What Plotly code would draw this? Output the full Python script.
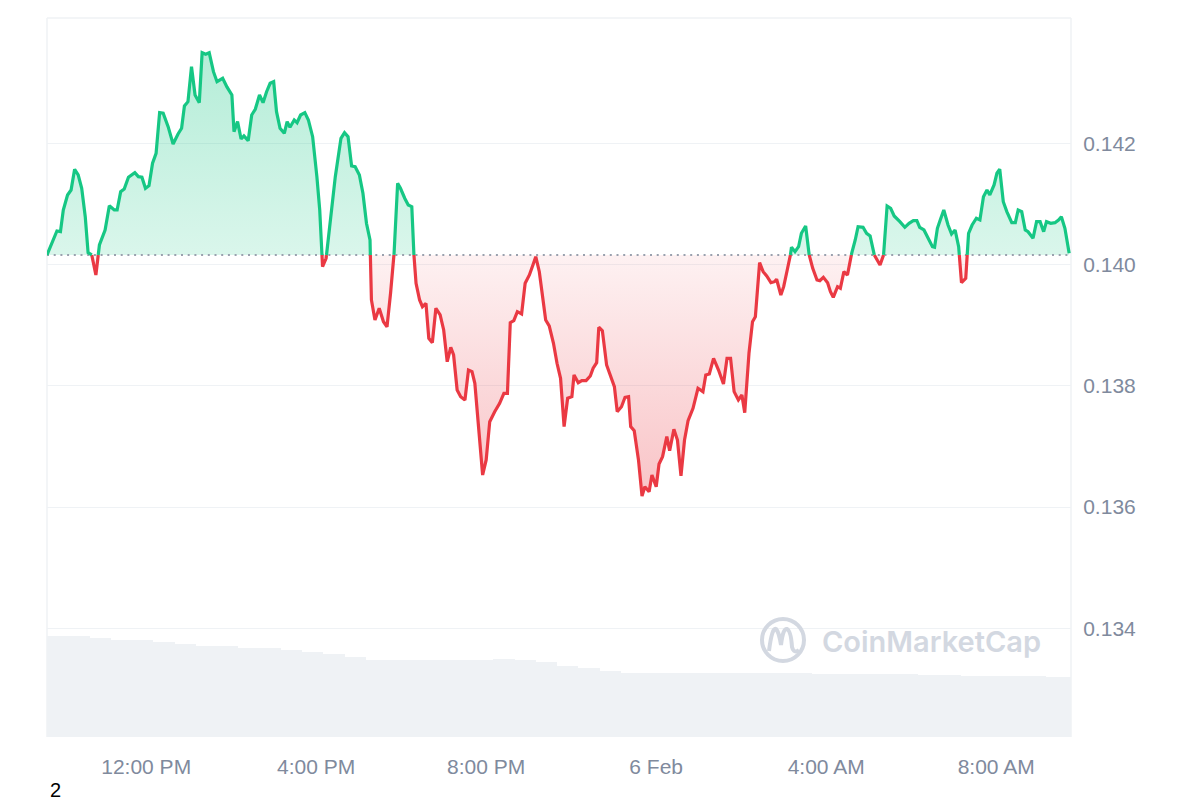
import numpy as np
import pandas as pd
import plotly.graph_objects as go

# ---------------- data ----------------
DAY1 = "2025-02-05"
DAY2 = "2025-02-06"
BASE_PRICE = 0.140157  # opening price (dotted reference line)

times_day1 = [
    "09:40", "09:54", "09:59", "10:03", "10:09", "10:14", "10:19", "10:24", "10:29", "10:34",
    "10:38", "10:43", "10:49", "10:54", "11:02", "11:08", "11:15", "11:19", "11:24", "11:29",
    "11:35", "11:44", "11:49", "11:54", "11:59", "12:04", "12:09", "12:14", "12:19", "12:24",
    "12:31", "12:38", "12:45", "12:50", "12:54", "12:59", "13:04", "13:09", "13:15", "13:19",
    "13:24", "13:29", "13:35", "13:40", "13:48", "13:54", "14:01", "14:04", "14:09", "14:14",
    "14:18", "14:24", "14:29", "14:34", "14:40", "14:45", "14:50", "14:55", "15:00", "15:04",
    "15:09", "15:15", "15:19", "15:23", "15:29", "15:33", "15:38", "15:44", "15:49", "15:55",
    "16:01", "16:05", "16:09", "16:14", "16:20", "16:27", "16:35", "16:40", "16:45", "16:50",
    "16:55", "17:01", "17:06", "17:11", "17:16", "17:18", "17:23", "17:29", "17:35", "17:40",
    "17:45", "17:50", "17:55", "17:59", "18:05", "18:10", "18:15", "18:18", "18:21", "18:26",
    "18:30", "18:35", "18:39", "18:44", "18:49", "18:55", "19:00", "19:05", "19:10", "19:14",
    "19:19", "19:24", "19:30", "19:35", "19:40", "19:44", "19:49", "19:55", "20:00", "20:05",
    "20:12", "20:19", "20:25", "20:30", "20:34", "20:39", "20:44", "20:50", "20:55", "21:01",
    "21:06", "21:10", "21:15", "21:19", "21:24", "21:29", "21:35", "21:40", "21:45", "21:50",
    "21:55", "22:01", "22:04", "22:10", "22:15", "22:21", "22:27", "22:31", "22:36", "22:39",
    "22:44", "22:50", "22:56", "23:01", "23:05", "23:11", "23:16", "23:21", "23:24", "23:29",
    "23:35", "23:40", "23:44", "23:50", "23:54",
]
prices_day1 = [
    0.140157, 0.140552, 0.140541, 0.140899, 0.141146, 0.141228, 0.141570, 0.141476, 0.141256, 0.140788,
    0.140195, 0.140168, 0.139827, 0.140322, 0.140569, 0.140969, 0.140899, 0.140899, 0.141200, 0.141245,
    0.141438, 0.141514, 0.141448, 0.141438, 0.141256, 0.141299, 0.141669, 0.141833, 0.142503, 0.142493,
    0.142272, 0.141987, 0.142152, 0.142246, 0.142613, 0.142684, 0.143261, 0.142795, 0.142668, 0.143492,
    0.143466, 0.143492, 0.143179, 0.143014, 0.143070, 0.142927, 0.142795, 0.142190, 0.142355, 0.142069,
    0.142119, 0.142041, 0.142465, 0.142559, 0.142795, 0.142668, 0.142849, 0.142988, 0.143014, 0.142519,
    0.142246, 0.142163, 0.142355, 0.142262, 0.142383, 0.142338, 0.142465, 0.142503, 0.142383, 0.142107,
    0.141448, 0.140899, 0.139964, 0.140102, 0.140679, 0.141448, 0.142081, 0.142173, 0.142107, 0.141624,
    0.141613, 0.141476, 0.141174, 0.140679, 0.140404, 0.139415, 0.139085, 0.139278, 0.139057, 0.138974,
    0.139525, 0.140185, 0.141339, 0.141256, 0.141092, 0.140981, 0.140953, 0.140157, 0.139690, 0.139415,
    0.139304, 0.139360, 0.138783, 0.138711, 0.139278, 0.139167, 0.138920, 0.138397, 0.138635, 0.138508,
    0.137931, 0.137820, 0.137766, 0.138260, 0.138233, 0.138041, 0.137382, 0.136529, 0.136777, 0.137408,
    0.137573, 0.137711, 0.137876, 0.137876, 0.139040, 0.139073, 0.139222, 0.139184, 0.139690, 0.139827,
    0.139992, 0.140129, 0.139881, 0.139525, 0.139085, 0.138986, 0.138701, 0.138371, 0.138124, 0.137326,
    0.137794, 0.137820, 0.138178, 0.138051, 0.138084, 0.138084, 0.138162, 0.138289, 0.138381, 0.138965,
    0.138909, 0.138343, 0.138162, 0.137985, 0.137573, 0.137655, 0.137810, 0.137820, 0.137326, 0.137260,
    0.136777, 0.136183, 0.136336, 0.136254, 0.136529,
]
times_day2 = [
    "00:00", "00:04", "00:09", "00:15", "00:19", "00:25", "00:30", "00:35", "00:40", "00:45",
    "00:52", "00:59", "01:06", "01:10", "01:15", "01:21", "01:28", "01:35", "01:40", "01:45",
    "01:50", "01:56", "02:01", "02:05", "02:11", "02:16", "02:20", "02:26", "02:31", "02:36",
    "02:42", "02:47", "02:50", "02:56", "03:00", "03:05", "03:10", "03:11", "03:16", "03:21",
    "03:25", "03:31", "03:36", "03:41", "03:47", "03:51", "03:56", "04:02", "04:06", "04:10",
    "04:16", "04:20", "04:25", "04:30", "04:36", "04:41", "04:45", "04:52", "04:57", "05:02",
    "05:07", "05:11", "05:16", "05:21", "05:26", "05:31", "05:36", "05:44", "05:51", "05:57",
    "06:03", "06:08", "06:12", "06:18", "06:24", "06:30", "06:33", "06:37", "06:41", "06:46",
    "06:52", "06:57", "07:02", "07:07", "07:11", "07:17", "07:21", "07:26", "07:32", "07:37",
    "07:42", "07:47", "07:51", "07:57", "08:01", "08:05", "08:10", "08:15", "08:22", "08:27",
    "08:31", "08:36", "08:41", "08:45", "08:52", "08:57", "09:02", "09:07", "09:11", "09:17",
    "09:23", "09:28", "09:32", "09:37", "09:43",
]
prices_day2 = [
    0.136336, 0.136711, 0.136831, 0.137161, 0.136930, 0.137283, 0.137106, 0.136513, 0.137106, 0.137425,
    0.137629, 0.137959, 0.137903, 0.138178, 0.138195, 0.138453, 0.138260, 0.138030, 0.138453, 0.138453,
    0.137903, 0.137766, 0.137848, 0.137556, 0.138536, 0.139057, 0.139139, 0.140030, 0.139881, 0.139810,
    0.139700, 0.139716, 0.139756, 0.139497, 0.139634, 0.139909, 0.140185, 0.140284, 0.140211, 0.140293,
    0.140514, 0.140635, 0.140157, 0.139937, 0.139744, 0.139733, 0.139789, 0.139700, 0.139552, 0.139459,
    0.139634, 0.139608, 0.139881, 0.139827, 0.140185, 0.140404, 0.140623, 0.140613, 0.140514, 0.140470,
    0.140173, 0.140102, 0.139992, 0.140157, 0.140965, 0.140927, 0.140800, 0.140706, 0.140613, 0.140679,
    0.140722, 0.140722, 0.140613, 0.140569, 0.140416, 0.140293, 0.140284, 0.140597, 0.140734, 0.140899,
    0.140651, 0.140503, 0.140569, 0.140293, 0.139700, 0.139772, 0.140514, 0.140651, 0.140762, 0.140734,
    0.141118, 0.141228, 0.141146, 0.141311, 0.141504, 0.141570, 0.141035, 0.140871, 0.140689, 0.140689,
    0.140899, 0.140871, 0.140569, 0.140541, 0.140432, 0.140706, 0.140706, 0.140541, 0.140706, 0.140679,
    0.140689, 0.140734, 0.140788, 0.140597, 0.140185,
]

# 24h volume (relative, millions) sampled every 30 minutes
VOLUME_START = "2025-02-05 09:40"
volume_musd = [
    40.4, 40.4, 39.5, 38.8, 38.8, 38.0, 37.2, 36.4, 36.4, 35.5,
    35.5, 34.8, 34.0, 33.2, 32.0, 30.8, 30.8, 30.8, 30.8, 30.8,
    30.8, 31.2, 30.8, 30.0, 28.4, 27.6, 26.6, 25.8, 25.8, 25.6,
    25.6, 25.6, 25.6, 25.6, 25.6, 25.6, 25.4, 25.2, 25.2, 25.2,
    25.2, 25.0, 24.8, 24.4, 24.4, 24.4, 24.4, 24.2, 24.2,
]

x_tick_vals = ["2025-02-05 12:00", "2025-02-05 16:00", "2025-02-05 20:00",
               "2025-02-06 00:00", "2025-02-06 04:00", "2025-02-06 08:00"]
x_tick_text = ["12:00 PM", "4:00 PM", "8:00 PM", "6 Feb", "4:00 AM", "8:00 AM"]
y_tick_vals = [0.134, 0.136, 0.138, 0.140, 0.142]
y_tick_text = ["0.134", "0.136", "0.138", "0.140", "0.142"]

X_RANGE = ["2025-02-05 09:40", "2025-02-06 09:45:36"]
Y_RANGE = [0.132209, 0.144064]
VOL_RANGE = [0, 287.6]

GREEN = "#16c784"
RED = "#ea3943"

# ---------------- build series ----------------
ts = pd.to_datetime([f"{DAY1} {t}" for t in times_day1] + [f"{DAY2} {t}" for t in times_day2])
px = np.array(prices_day1 + prices_day2, dtype=float)
tms = ts.astype("int64").to_numpy() / 1e6  # ms

# insert baseline crossings so colours switch exactly on the reference line
ax, ay = [tms[0]], [px[0]]
for i in range(1, len(px)):
    a, b = px[i - 1] - BASE_PRICE, px[i] - BASE_PRICE
    if a * b < 0:
        f = a / (a - b)
        ax.append(tms[i - 1] + f * (tms[i] - tms[i - 1]))
        ay.append(BASE_PRICE)
    ax.append(tms[i])
    ay.append(px[i])
ax = pd.to_datetime(np.array(ax), unit="ms")
ay = np.array(ay)
eps = 1e-9
green_line = [v if v >= BASE_PRICE - eps else None for v in ay]
red_line = [v if v <= BASE_PRICE + eps else None for v in ay]
green_fill = np.maximum(ay, BASE_PRICE)
red_fill = np.minimum(ay, BASE_PRICE)
base_arr = np.full(len(ay), BASE_PRICE)

vol_t = pd.date_range(VOLUME_START, periods=len(volume_musd), freq="30min")

fig = go.Figure()

fig.add_trace(go.Bar(
    x=vol_t, y=volume_musd, yaxis="y2", width=1800000, offset=0,
    marker=dict(color="#eff2f5", line=dict(width=0)), hoverinfo="skip", showlegend=False,
))

# green fill
fig.add_trace(go.Scatter(x=ax, y=base_arr, mode="lines", line=dict(width=0),
                         hoverinfo="skip", showlegend=False))
fig.add_trace(go.Scatter(
    x=ax, y=green_fill, mode="lines", line=dict(width=0), fill="tonexty",
    fillgradient=dict(type="vertical", start=BASE_PRICE, stop=float(px.max()),
                      colorscale=[[0, "rgba(22,199,132,0.16)"], [1, "rgba(22,199,132,0.32)"]]),
    hoverinfo="skip", showlegend=False))
# red fill
fig.add_trace(go.Scatter(x=ax, y=base_arr, mode="lines", line=dict(width=0),
                         hoverinfo="skip", showlegend=False))
fig.add_trace(go.Scatter(
    x=ax, y=red_fill, mode="lines", line=dict(width=0), fill="tonexty",
    fillgradient=dict(type="vertical", start=float(px.min()), stop=BASE_PRICE,
                      colorscale=[[0, "rgba(234,57,67,0.30)"], [1, "rgba(234,57,67,0.07)"]]),
    hoverinfo="skip", showlegend=False))

# dotted opening-price line
fig.add_trace(go.Scatter(x=X_RANGE, y=[BASE_PRICE, BASE_PRICE], mode="lines",
                         line=dict(color="#9aa1ae", width=2, dash="2px,4.7px"),
                         hoverinfo="skip", showlegend=False))

fig.add_trace(go.Scatter(x=ax, y=red_line, mode="lines", line=dict(color=RED, width=3.2),
                         connectgaps=False, showlegend=False))
fig.add_trace(go.Scatter(x=ax, y=green_line, mode="lines", line=dict(color=GREEN, width=3.2),
                         connectgaps=False, showlegend=False))

# ---------------- layout ----------------
L, R, T, B = 47, 129, 18, 63
PW, PH = 1200 - L - R, 800 - T - B


def to_paper(x, y):
    return (x - L) / PW, (800 - B - y) / PH


tick_font = dict(family="Liberation Sans, Arial, sans-serif", size=21, color="#808a9d")

fig.update_layout(
    width=1200, height=800, autosize=False,
    margin=dict(l=L, r=R, t=T, b=B, pad=0),
    paper_bgcolor="white", plot_bgcolor="white",
    showlegend=False, bargap=0,
    xaxis=dict(type="date", range=X_RANGE, tickvals=x_tick_vals, ticktext=x_tick_text,
               showgrid=False, zeroline=False, showline=False, ticks="outside",
               ticklen=11, tickcolor="rgba(0,0,0,0)", tickfont=tick_font, fixedrange=True),
    yaxis=dict(side="right", range=Y_RANGE, tickvals=y_tick_vals, ticktext=y_tick_text,
               showgrid=True, gridcolor="#eff2f5", gridwidth=1, zeroline=False, showline=False,
               ticks="outside", ticklen=7, tickcolor="rgba(0,0,0,0)", tickfont=tick_font),
    yaxis2=dict(overlaying="y", range=VOL_RANGE, visible=False),
)

# plot frame lines
frame_col = "#eff2f5"
fig.add_shape(type="line", xref="paper", yref="paper", x0=0, x1=1, y0=1, y1=1,
              line=dict(color=frame_col, width=1.5), layer="below")
fig.add_shape(type="line", xref="paper", yref="paper", x0=0, x1=0, y0=0, y1=1,
              line=dict(color=frame_col, width=1.5), layer="below")
fig.add_shape(type="line", xref="paper", yref="paper", x0=1, x1=1, y0=0, y1=1,
              line=dict(color=frame_col, width=1.5), layer="below")

# watermark logo
wm_col = "#d3d8e1"
cx0, cy0 = to_paper(783 - 21, 640 + 21)
cx1, cy1 = to_paper(783 + 21, 640 - 21)
fig.add_shape(type="circle", xref="paper", yref="paper", x0=cx0, x1=cx1, y0=cy0, y1=cy1,
              line=dict(color=wm_col, width=4), layer="above")
wave = [(769, 651), (772, 627), (776, 629), (779, 632), (781, 645), (783, 628), (787, 629),
        (791, 631), (792, 647), (794, 654), (799, 650)]
pp = [to_paper(a, b) for a, b in wave]
path = f"M {pp[0][0]},{pp[0][1]}"
for k in range(1, len(pp) - 1, 2):
    path += f" Q {pp[k][0]},{pp[k][1]} {pp[k+1][0]},{pp[k+1][1]}"
fig.add_shape(type="path", xref="paper", yref="paper", path=path,
              line=dict(color=wm_col, width=4), layer="above")
wx, wy = to_paper(931, 641)
fig.add_annotation(xref="paper", yref="paper", x=wx, y=wy, text="CoinMarketCap",
                   showarrow=False, xanchor="center", yanchor="middle",
                   font=dict(family="Inter, Lato, sans-serif", size=29, color=wm_col, weight=600))

nx, ny = to_paper(55, 790)
fig.add_annotation(xref="paper", yref="paper", x=nx, y=ny, text="2", showarrow=False,
                   xanchor="center", yanchor="middle",
                   font=dict(family="Liberation Sans, Arial, sans-serif", size=20, color="#000000"))

fig.write_html("out.html", config={"displayModeBar": False},
               post_script="document.body.style.margin='0';document.body.style.overflow='hidden';")
